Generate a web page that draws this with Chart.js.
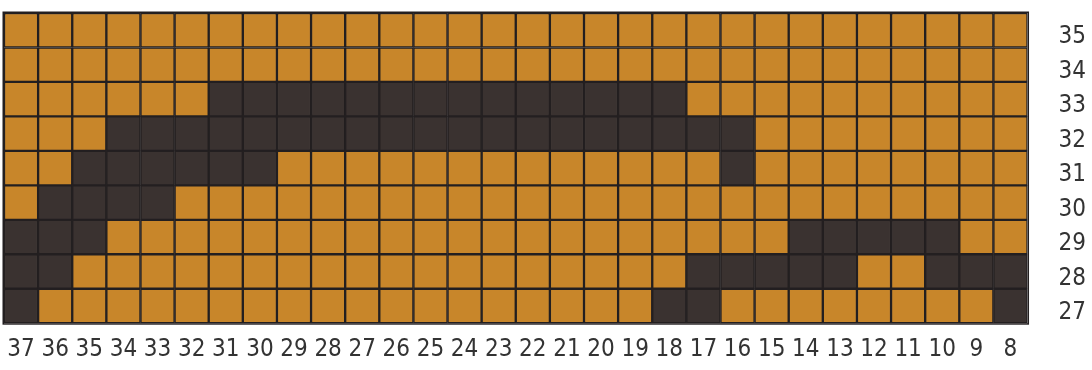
<!DOCTYPE html>
<html>
<head>
<meta charset="utf-8">
<script src="https://cdn.jsdelivr.net/npm/chart.js@4/dist/chart.umd.min.js"></script>
<style>
  html, body { margin: 0; padding: 0; background: #fff; }
  #wrap { width: 1092px; height: 370px; position: relative; }
</style>
</head>
<body>
<div id="wrap"><canvas id="grid"></canvas></div>
<script>
// column labels, left to right
const columns = ["37","36","35","34","33","32","31","30","29","28","27","26","25","24","23",
                 "22","21","20","19","18","17","16","15","14","13","12","11","10","9","8"];
// row labels, top to bottom
const rows = ["35","34","33","32","31","30","29","28","27"];
// cell state per row (top to bottom), one char per column: o = orange, x = dark
const cells = [
  "oooooooooooooooooooooooooooooo", // 35
  "oooooooooooooooooooooooooooooo", // 34
  "ooooooxxxxxxxxxxxxxxoooooooooo", // 33
  "oooxxxxxxxxxxxxxxxxxxxoooooooo", // 32
  "ooxxxxxxoooooooooooooxoooooooo", // 31
  "oxxxxooooooooooooooooooooooooo", // 30
  "xxxooooooooooooooooooooxxxxxoo", // 29
  "xxooooooooooooooooooxxxxxooxxx", // 28
  "xooooooooooooooooooxxoooooooox"  // 27
];

const ORANGE = "#c8862a";
const DARK = "#3a3230";
const LINE = "#231f20";

// one stacked dataset per row, bottom row first so it sits at the bottom
const datasets = cells.slice().reverse().map((row, i) => ({
  label: rows[rows.length - 1 - i],
  data: columns.map(() => 1),
  backgroundColor: row.split("").map((c) => (c === "x" ? DARK : ORANGE)),
  borderColor: LINE,
  borderWidth: 1.5,
  borderSkipped: false,
  barPercentage: 1,
  categoryPercentage: 1,
}));

// heavier outline round the whole grid
const frame = {
  id: "frame",
  afterDatasetsDraw(chart) {
    const { ctx, chartArea: a } = chart;
    ctx.save();
    ctx.strokeStyle = LINE;
    ctx.lineWidth = 1.5;
    ctx.strokeRect(a.left - 0.75, a.top - 0.75, a.width + 1.5, a.height + 1.5);
    ctx.restore();
  },
};

const labelFont = { family: "'Liberation Sans Narrow', 'DejaVu Sans Condensed', sans-serif", size: 24 };

// labels sit inside the grid, so the axes need no extra edge room;
// chart.js also counts tick padding twice, take one back
const tightAxis = (axis) => {
  axis.paddingTop = 0;
  axis.paddingBottom = 0;
  axis.paddingLeft = 0;
  axis.paddingRight = 0;
  const pad = axis.options.ticks.padding;
  if (axis.isHorizontal()) axis.height -= pad;
  else axis.width -= pad;
};

new Chart(document.getElementById("grid"), {
  type: "bar",
  data: { labels: columns, datasets },
  plugins: [frame],
  options: {
    responsive: true,
    maintainAspectRatio: false,
    animation: false,
    layout: { padding: { left: 4, top: 13, right: 6, bottom: 6 } },
    plugins: { legend: { display: false }, tooltip: { enabled: false } },
    scales: {
      x: {
        stacked: true,
        grid: { display: false, drawTicks: false },
        border: { display: false },
        afterFit: tightAxis,
        ticks: { color: "#333", font: labelFont, padding: 12, maxRotation: 0, autoSkip: false },
      },
      y: {
        stacked: true,
        position: "right",
        min: 0,
        max: rows.length,
        grid: { display: false, drawTicks: false },
        border: { display: false },
        afterFit: tightAxis,
        afterBuildTicks: (axis) => {
          axis.ticks = rows.map((_, i) => ({ value: i + 0.5 }));
        },
        ticks: {
          color: "#333",
          font: labelFont,
          padding: 31,
          labelOffset: 7,
          autoSkip: false,
          callback: (v) => rows[rows.length - 1 - Math.floor(v)],
        },
      },
    },
  },
});
</script>
</body>
</html>
